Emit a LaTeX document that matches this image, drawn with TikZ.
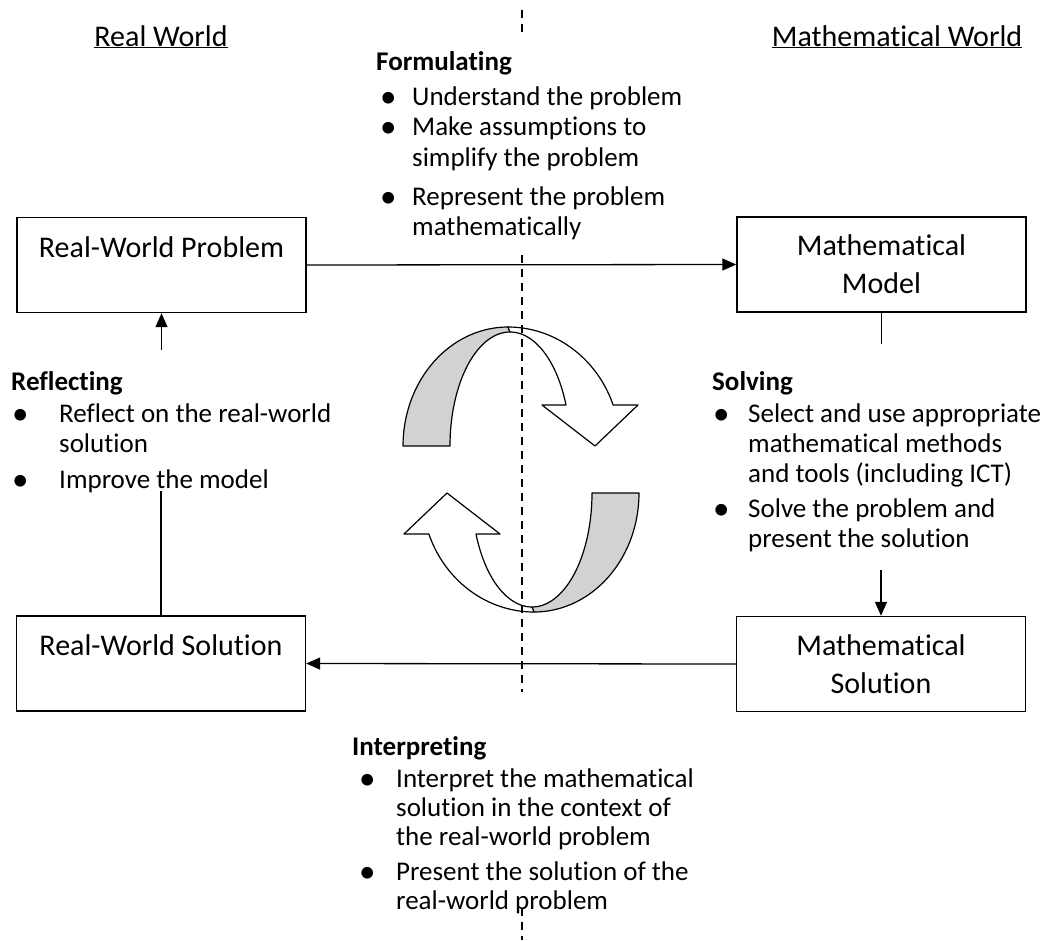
\documentclass[tikz,border=0pt]{standalone}
\usepackage{fontspec}
\setmainfont{Carlito}[Ligatures=NoCommon]
\usetikzlibrary{arrows.meta}
\newcommand\myCycArrow{%
  \filldraw[cycfill=gray!35]
    plot[domain=180:90,samples=50] ({508+105*cos(\x)},{446-119*sin(\x)})
    -- plot[domain=90:180,samples=50] ({510+60*cos(\x)},{446-114*sin(\x)}) -- cycle;
  \filldraw[cycfill=white]
    plot[domain=90:20.2,samples=50] ({508+112*cos(\x)},{446-119*sin(\x)})
    -- (638,405) -- (595,446) -- (542,405) -- (566,405)
    -- plot[domain=21.1:90,samples=50] ({510+60*cos(\x)},{446-114*sin(\x)}) -- cycle;
}
\begin{document}
\begin{tikzpicture}[x=1pt,y=-1pt,
  box/.style={draw, line width=1.4pt, minimum width=289pt, minimum height=95pt, inner sep=0pt,
              font=\fontsize{30}{38}\selectfont, align=center},
  body/.style={font=\fontsize{27}{30.5}\selectfont, inner sep=0pt, anchor=base west},
  head/.style={font=\fontsize{27}{30.5}\selectfont\bfseries, inner sep=0pt, anchor=base west},
  bul/.style={font=\fontsize{33}{33}\selectfont, inner sep=0pt, anchor=base west, yshift=-2pt,
              text height=14pt, text depth=0pt},
  hdr/.style={font=\fontsize{30}{34}\selectfont, inner sep=0pt, anchor=base},
  conn/.style={line width=1.3pt},
  arr/.style={conn, -{Triangle[length=14pt,width=12pt]}},
  dashline/.style={line width=1.3pt, dash pattern=on 8pt off 6pt},
  cycfill/.style={fill=#1, draw=black, line width=1.2pt, line join=round}
]
\useasboundingbox (0,0) rectangle (1055,940);

% headers
\node[hdr] (hrw) at (161,46) {\underline{Real World}};
\node[hdr] (hmw) at (897,46) {\underline{Mathematical World}};

% boxes
\node[box, text height=20pt, text depth=36pt] (rwp) at (161.5,265) {Real-World Problem};
\node[box] (mm) at (881.5,264.5) {Mathematical\\Model};
\node[box] (ms) at (881,664) {Mathematical\\Solution};
\node[box, text height=20pt, text depth=36pt] (rws) at (161,663.5) {Real-World Solution};

% curved arrows
\myCycArrow
\begin{scope}[rotate around={180:(521,469.5)}]
\myCycArrow
\end{scope}

% dashed divider
\coordinate (da1) at (522,10);  \coordinate (da2) at (522,33);
\coordinate (db1) at (522,255); \coordinate (db2) at (522,692);
\coordinate (dc1) at (522,908); \coordinate (dc2) at (522,940);
\draw[dashline] (da1) -- (da2);
\draw[dashline] (db1) -- (db2);
\draw[dashline] (dc1) -- (dc2);

% connectors
\draw[arr] (rwp.east) -- (mm.west);
\draw[arr] (ms.west) -- (rws.east);
\coordinate (mmEnd) at (881.5,344);
\draw[conn] (mm.south) -- (mmEnd);
\coordinate (msStart) at (881,570);
\draw[arr] (msStart) -- (ms.north);
\coordinate (rwsEnd) at (161,491);
\draw[conn] (rws.north) -- (rwsEnd);
\coordinate (rwpStart) at (161.5,350);
\draw[arr] (rwpStart) -- (rwp.south);

% Formulating
\node[head] (fh) at (376,70) {Formulating};
\node[bul] (fb1) at (380,105) {\textbullet};
\node[body] (f1) at (412,105) {Understand the problem};
\node[bul] (fb2) at (380,135.5) {\textbullet};
\node[body] (f2) at (412,135.5) {Make assumptions to};
\node[body] (f3) at (412,166) {simplify the problem};
\node[bul] (fb3) at (380,205) {\textbullet};
\node[body] (f4) at (412,205) {Represent the problem};
\node[body] (f5) at (412,235.5) {mathematically};

% Reflecting
\node[head] (rh) at (11,390) {Reflecting};
\node[bul] (rb1) at (12,422) {\textbullet};
\node[body] (r1) at (59,422) {Reflect on the real-world};
\node[body] (r2) at (59,452) {solution};
\node[bul] (rb2) at (12,488) {\textbullet};
\node[body] (r3) at (59,488) {Improve the model};

% Solving
\node[head] (sh) at (712,390) {Solving};
\node[bul] (sb1) at (713,422) {\textbullet};
\node[body] (s1) at (748,422) {Select and use appropriate};
\node[body] (s2) at (748,452) {mathematical methods};
\node[body] (s3) at (748,482) {and tools (including ICT)};
\node[bul] (sb2) at (713,517) {\textbullet};
\node[body] (s4) at (748,517) {Solve the problem and};
\node[body] (s5) at (748,547) {present the solution};

% Interpreting
\node[head] (ih) at (352,755) {Interpreting};
\node[bul] (ib1) at (359,787) {\textbullet};
\node[body] (i1) at (396,787) {Interpret the mathematical};
\node[body] (i2) at (396,816) {solution in the context of};
\node[body] (i3) at (396,845) {the real-world problem};
\node[bul] (ib2) at (359,880) {\textbullet};
\node[body] (i4) at (396,880) {Present the solution of the};
\node[body] (i5) at (396,909) {real-world problem};
\end{tikzpicture}
\end{document}
